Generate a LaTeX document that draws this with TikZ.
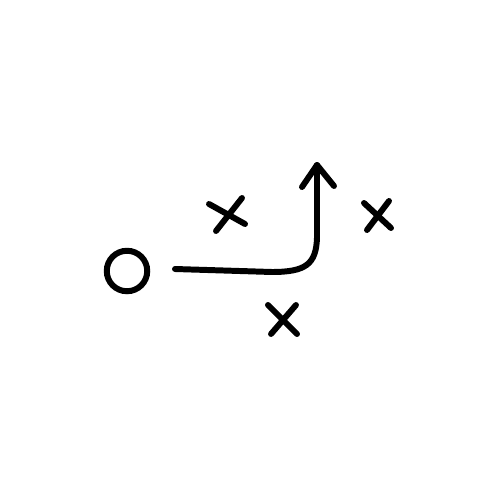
\documentclass[tikz,border=0pt]{standalone}
\usepackage{tikz}
\usetikzlibrary{arrows,positioning}
\tikzstyle{xmark} = [line width=3.4pt,line cap=round,black]
\tikzstyle{playline} = [line width=3.4pt,line cap=round,line join=round,black]

\begin{document}
\begin{tikzpicture}[x=0.02cm,y=-0.02cm]
            \useasboundingbox (0,0) rectangle (500,500);
            \node[circle, draw, line width=3.4pt, minimum size=0.81cm, inner sep=0pt] (ball) at (127,271) {};
            \coordinate (start) at (175,269);
            \coordinate (corner) at (317,238);
            \coordinate (tip) at (317,165);
            \coordinate (lwing) at (302,187);
            \coordinate (rwing) at (334,186);
            % the route
            \draw[playline] (start) -- (272,272) .. controls (306,272) and (316,264) .. (corner) -- (tip);
            \draw[playline] (lwing) -- (tip) -- (rwing);
            % defenders
            \draw[xmark] (209,204) -- (245,224);
            \draw[xmark] (242,198) -- (216,231);
            \draw[xmark] (268,305) -- (297,334);
            \draw[xmark] (296,305) -- (271,334);
            \draw[xmark] (364,203) -- (391,228);
            \draw[xmark] (389,201) -- (367,230);
        \end{tikzpicture}
\end{document}
